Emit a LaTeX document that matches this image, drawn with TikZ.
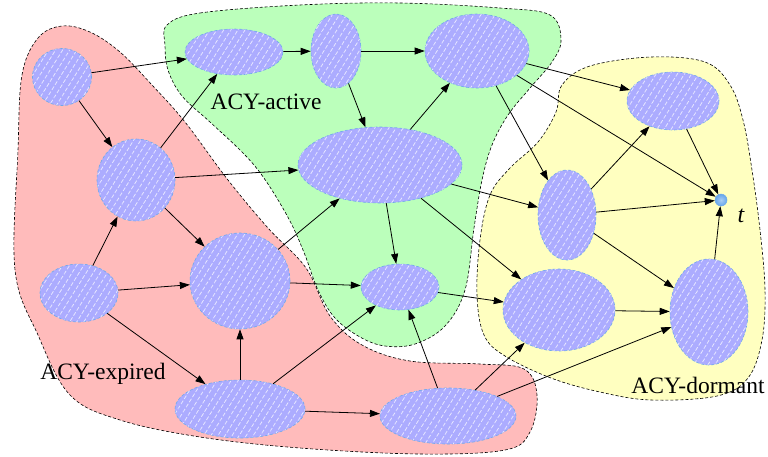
\documentclass[tikz,border=0pt]{standalone}
\usepackage{fontspec}
\setmainfont{Liberation Serif}
\usetikzlibrary{shapes.geometric,arrows.meta,patterns.meta}
\definecolor{blobfill}{RGB}{172,172,255}
\definecolor{blobedge}{RGB}{110,170,235}
\definecolor{stripe}{RGB}{230,230,255}
\definecolor{redreg}{RGB}{255,187,187}
\definecolor{greenreg}{RGB}{187,255,187}
\definecolor{yellowreg}{RGB}{255,255,192}
\definecolor{tball}{RGB}{100,165,235}
\begin{document}
\begin{tikzpicture}[x=1pt,y=-1pt,
  blob/.style={ellipse, inner sep=0pt, draw=blobedge, densely dashed, line width=0.6pt, fill=blobfill,
    postaction={pattern={Lines[angle=58,distance=6pt,line width=0.8pt]}, pattern color=stripe}},
  region/.style={draw=black, densely dashed, line width=0.6pt},
  edge/.style={-{Stealth[length=10pt,width=7pt,inset=0pt]}, line width=0.8pt, black},
  lab/.style={font=\fontsize{23.5}{28}\selectfont, inner sep=0pt}]
\useasboundingbox (0,0) rectangle (768,456);

% regions
\draw[region, fill=redreg] plot[smooth cycle, tension=0.6] coordinates {
 (18,150) (22,75) (38,38) (62,26) (90,32) (120,52) (152,85) (185,122) (228,180) (268,228)
 (306,268) (330,316) (362,345) (410,361) (480,364) (524,369) (537,395) (530,432) (505,450)
 (420,454) (300,448) (200,437) (120,420) (70,395) (38,335) (15,270)};
\draw[region, fill=greenreg] plot[smooth cycle, tension=0.6] coordinates {
 (167,25) (200,13) (300,5) (400,3) (500,8) (550,15) (561,40) (552,62) (530,88) (508,115)
 (492,145) (482,180) (474,228) (465,290) (445,326) (415,344) (385,346) (360,337) (335,318)
 (318,290) (305,255) (292,225) (275,195) (258,170) (240,150) (210,122) (182,96) (168,70) (165,45)};
\draw[region, fill=yellowreg] plot[smooth cycle, tension=0.6] coordinates {
 (590,66) (651,57) (705,62) (730,85) (743,120) (752,170) (760,230) (765,290) (762,340)
 (748,378) (717,396) (651,400) (600,392) (551,378) (505,356) (484,335) (477,295) (480,240)
 (490,195) (510,168) (538,142) (556,112) (562,85)};

% labels
\node[lab] (lact) at (266,102) {ACY-active};
\node[lab] (lexp) at (103,374) {ACY-expired};
\node[lab] (ldor) at (698,385) {ACY-dormant};

% expired nodes
\node[blob, minimum width=59pt, minimum height=57pt] (n1) at (62,77) {};
\node[blob, minimum width=78pt, minimum height=82pt] (n2) at (136,180) {};
\node[blob, minimum width=78pt, minimum height=58pt] (n3) at (79,293) {};
\node[blob, minimum width=100pt, minimum height=96pt] (n4) at (240,281) {};
\node[blob, minimum width=130pt, minimum height=58pt] (n5) at (240,409) {};
\node[blob, minimum width=136pt, minimum height=56pt] (n6) at (448,416) {};
% active nodes
\node[blob, minimum width=98pt, minimum height=46pt] (a1) at (234,52) {};
\node[blob, minimum width=50pt, minimum height=74pt] (a2) at (336,51) {};
\node[blob, minimum width=104pt, minimum height=74pt] (a3) at (477,51) {};
\node[blob, minimum width=164pt, minimum height=76pt] (a4) at (380,165) {};
\node[blob, minimum width=78pt, minimum height=46pt] (a5) at (400,287) {};
% dormant nodes
\node[blob, minimum width=92pt, minimum height=58pt] (d1) at (673,101) {};
\node[blob, minimum width=58pt, minimum height=90pt] (d2) at (567,215) {};
\node[blob, minimum width=112pt, minimum height=82pt] (d3) at (559,310) {};
\node[blob, minimum width=78pt, minimum height=106pt] (d4) at (709,312) {};
% target
\node[circle, inner sep=0pt, minimum size=12pt, draw=blobedge, line width=0.5pt, inner color=white!45!tball, outer color=tball] (t) at (721,200) {};
\node[font=\fontsize{24}{28}\selectfont\itshape, inner sep=0pt] (tl) at (741,216) {t};

% edges
\draw[edge] (n1) -- (a1);
\draw[edge] (n1) -- (n2);
\draw[edge] (n2) -- (a1);
\draw[edge] (n2) -- (a4);
\draw[edge] (n2) -- (n4);
\draw[edge] (n3) -- (n2);
\draw[edge] (n3) -- (n4);
\draw[edge] (n3) -- (n5);
\draw[edge] (n4) -- (a4);
\draw[edge] (n4) -- (a5);
\draw[edge] (n5) -- (n4);
\draw[edge] (n5) -- (a5);
\draw[edge] (n5) -- (n6);
\draw[edge] (n6) -- (a5);
\draw[edge] (n6) -- (d3);
\draw[edge] (n6) -- (d4);
\draw[edge] (a1) -- (a2);
\draw[edge] (a2) -- (a3);
\draw[edge] (a2) -- (a4);
\draw[edge] (a4) -- (a3);
\draw[edge] (a4) -- (a5);
\draw[edge] (a4) -- (d2);
\draw[edge] (a4) -- (d3);
\draw[edge] (a5) -- (d3);
\draw[edge] (a3) -- (d1);
\draw[edge] (a3) -- (t);
\draw[edge] (a3) -- (d2);
\draw[edge] (d2) -- (d1);
\draw[edge] (d2) -- (t);
\draw[edge] (d2) -- (d4);
\draw[edge] (d1) -- (t);
\draw[edge] (d3) -- (d4);
\draw[edge] (d4) -- (t);
\end{tikzpicture}
\end{document}
